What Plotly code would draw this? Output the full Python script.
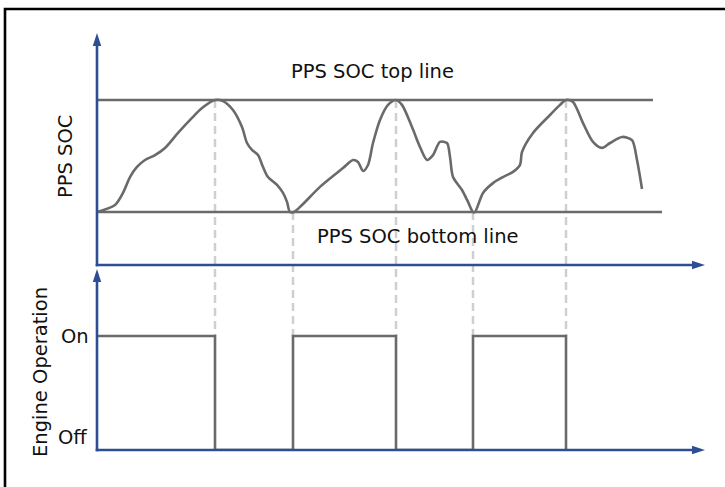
import plotly.graph_objects as go

# ---------------- data ----------------
# time axis (arbitrary units) and PPS state of charge (% of band, bottom=30, top=80)
soc_time = [0, 1.8, 2.6, 3.3, 4.0, 4.8, 5.8, 6.8, 8.1, 9.5, 10.5, 11.8,
            12.6, 13.6, 14.5, 15.0, 15.5, 16.1, 16.6, 17.1, 18.0, 18.6, 19.0, 19.3,
            19.7, 20.5, 22.3, 24.6, 25.6, 26.1, 26.6, 27.1, 27.6, 28.3, 29.1, 29.9,
            30.5, 31.5, 32.3, 33.0, 33.6, 34.3, 35.0, 35.3, 35.6, 36.5, 37.1, 37.6,
            37.8, 38.6, 39.6, 40.6, 41.6, 42.3, 42.5, 43.6, 45.3, 46.3, 46.9,
            47.6, 48.6, 49.6, 50.5, 51.3, 52.5, 53.5, 54.0, 54.5]
soc_value = [30, 33.1, 38.5, 45.6, 50.1, 53.2, 55.4, 58.6, 65.3, 72.0, 76.4, 80,
             79.5, 75.5, 67.9, 60.8, 57.7, 55.4, 50.1, 45.6, 42.1, 38.5, 34.5, 30,
             30, 33.1, 41.2, 49.6, 53.2, 52.3, 48.3, 51.0, 60.8, 71.1, 77.8, 80,
             77.8, 67.9, 59.0, 53.2, 55.4, 61.3, 60.8, 54.6, 45.6, 39.8, 34.5, 30,
             30, 38.5, 42.9, 45.6, 47.9, 51.0, 56.8, 65.3, 73.3, 77.8, 80,
             79.1, 69.7, 61.3, 58.6, 60.8, 63.5, 62.1, 53.2, 40.3]

soc_top = 80
soc_bottom = 30
top_line_end = 55.6
bottom_line_end = 56.5

# engine switching events
switch_time = [11.8, 19.6, 29.9, 37.6, 46.9]
switch_soc = [80, 30, 80, 30, 80]
engine_time = [0, 11.8, 19.6, 29.9, 37.6, 46.9]
engine_state = [1, 0, 1, 0, 1, 0]
state_labels = ["Off", "On"]

# ---------------- layout constants ----------------
W, H = 725, 487
def px(x): return x / W
def py(y): return 1 - y / H

X_DOM = [px(97), px(705)]
Y1_DOM = [py(265), py(33)]
Y2_DOM = [py(450), py(269)]
X_RANGE = [0, 60.8]
Y1_RANGE = [6.34, 109.9]
Y2_RANGE = [0, 1.588]

def y1_to_paper(v):
    return Y1_DOM[0] + (v - Y1_RANGE[0]) / (Y1_RANGE[1] - Y1_RANGE[0]) * (Y1_DOM[1] - Y1_DOM[0])
def y2_to_paper(v):
    return Y2_DOM[0] + (v - Y2_RANGE[0]) / (Y2_RANGE[1] - Y2_RANGE[0]) * (Y2_DOM[1] - Y2_DOM[0])

GRAY = "#6a6a6a"
BLUE = "#2d4e92"
DASH = "#cfcfcf"
FONT = "DejaVu Sans"
LW = 2.6

fig = go.Figure()

# top panel: SOC curve and band lines
fig.add_trace(go.Scatter(x=[0, top_line_end], y=[soc_top, soc_top], mode="lines",
                         line=dict(color=GRAY, width=LW), xaxis="x", yaxis="y", hoverinfo="skip"))
fig.add_trace(go.Scatter(x=[0, bottom_line_end], y=[soc_bottom, soc_bottom], mode="lines",
                         line=dict(color=GRAY, width=LW), xaxis="x", yaxis="y", hoverinfo="skip"))
fig.add_trace(go.Scatter(x=soc_time, y=soc_value, mode="lines",
                         line=dict(color=GRAY, width=LW, shape="spline", smoothing=0.8),
                         xaxis="x", yaxis="y"))

# bottom panel: engine on/off step
fig.add_trace(go.Scatter(x=engine_time, y=engine_state, mode="lines",
                         line=dict(color=GRAY, width=LW, shape="hv"),
                         xaxis="x2", yaxis="y2"))

shapes = []
# dashed connectors
for t, s in zip(switch_time, switch_soc):
    shapes.append(dict(type="line", xref="x", yref="paper", x0=t, x1=t,
                       y0=y1_to_paper(s), y1=y2_to_paper(1),
                       line=dict(color=DASH, width=2.5, dash="8px,5px"), layer="below"))

# axis lines (drawn above the traces) with arrowheads
def hline(y):
    return dict(type="line", xref="paper", yref="paper", x0=X_DOM[0] - 1.3 / W,
                x1=X_DOM[1] - px(6), y0=y, y1=y, line=dict(color=BLUE, width=LW))
def vline(y0, y1):
    return dict(type="line", xref="paper", yref="paper", x0=X_DOM[0], x1=X_DOM[0],
                y0=y0 - 1.3 / H, y1=y1 - 6 / H, line=dict(color=BLUE, width=LW))
def right_arrow(xtip, y):
    return dict(type="path", xref="paper", yref="paper",
                path=f"M {xtip},{y} L {xtip-px(13)},{y+4.2/H} L {xtip-px(13)},{y-4.2/H} Z",
                fillcolor=BLUE, line=dict(width=0))
def up_arrow(x, ytip):
    return dict(type="path", xref="paper", yref="paper",
                path=f"M {x},{ytip} L {x-4.2/W},{ytip-13/H} L {x+4.2/W},{ytip-13/H} Z",
                fillcolor=BLUE, line=dict(width=0))
shapes += [hline(Y1_DOM[0]), hline(Y2_DOM[0]),
           vline(Y1_DOM[0], Y1_DOM[1]), vline(Y2_DOM[0], Y2_DOM[1]),
           right_arrow(X_DOM[1], Y1_DOM[0]), right_arrow(X_DOM[1], Y2_DOM[0]),
           up_arrow(X_DOM[0], Y1_DOM[1]), up_arrow(X_DOM[0], Y2_DOM[1])]
# frame
shapes.append(dict(type="rect", xref="paper", yref="paper", x0=px(5), y0=-0.2, x1=1.2, y1=py(9),
                   line=dict(color="#000000", width=2.6)))

ann_font = dict(family=FONT, size=19.5, color="#111111")
annotations = [
    dict(text="PPS SOC top line", x=px(372), y=py(71), xref="paper", yref="paper",
         showarrow=False, font=ann_font, xanchor="center", yanchor="middle"),
    dict(text="PPS SOC bottom line", x=px(418), y=py(236), xref="paper", yref="paper",
         showarrow=False, font=ann_font, xanchor="center", yanchor="middle"),
    dict(text="PPS SOC", x=px(65), y=py(157), xref="paper", yref="paper", textangle=-90,
         showarrow=False, font=ann_font, xanchor="center", yanchor="middle"),
    dict(text="Engine Operation", x=px(40), y=py(372), xref="paper", yref="paper", textangle=-90,
         showarrow=False, font=ann_font, xanchor="center", yanchor="middle"),
    dict(text=state_labels[1], x=px(91), y=y2_to_paper(1), xref="paper", yref="paper",
         showarrow=False, font=ann_font, xanchor="right", yanchor="middle"),
    dict(text=state_labels[0], x=px(89), y=py(437), xref="paper", yref="paper",
         showarrow=False, font=ann_font, xanchor="right", yanchor="middle"),
]

axis_common = dict(showgrid=False, zeroline=False, showticklabels=False, ticks="",
                   showline=False, fixedrange=True)
fig.update_layout(
    width=W, height=H, margin=dict(l=0, r=0, t=0, b=0, pad=0),
    paper_bgcolor="white", plot_bgcolor="rgba(0,0,0,0)", showlegend=False,
    xaxis=dict(domain=X_DOM, range=X_RANGE, anchor="y", **axis_common),
    yaxis=dict(domain=Y1_DOM, range=Y1_RANGE, anchor="x", **axis_common),
    xaxis2=dict(domain=X_DOM, range=X_RANGE, anchor="y2", **axis_common),
    yaxis2=dict(domain=Y2_DOM, range=Y2_RANGE, anchor="x2", **axis_common),
    shapes=shapes, annotations=annotations,
)

fig.write_html("out.html", config={"displayModeBar": False},
               post_script="document.body.style.margin='0';document.body.style.overflow='hidden';")
